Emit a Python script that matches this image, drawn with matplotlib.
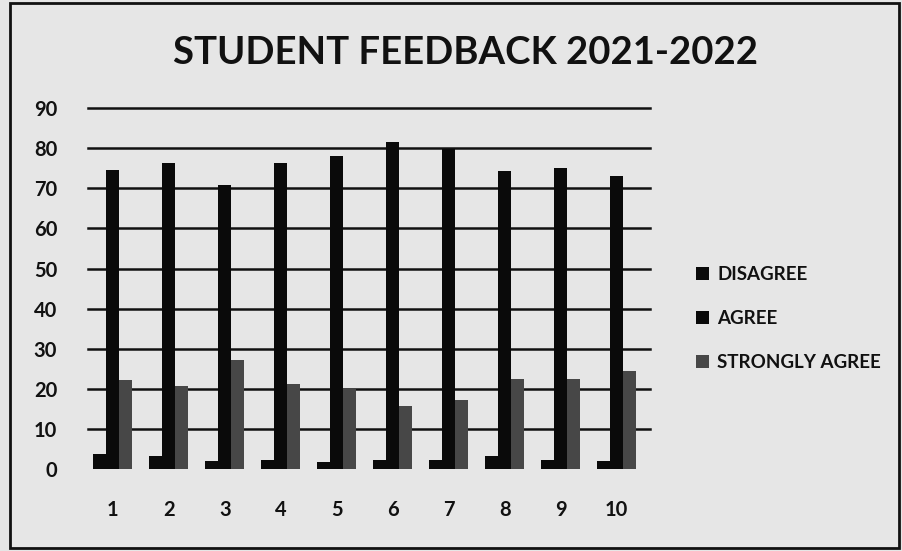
import numpy as np
import matplotlib.pyplot as plt
from matplotlib.patches import Rectangle

plt.rcParams['font.family'] = ['Lato', 'DejaVu Sans']

questions = ['1', '2', '3', '4', '5', '6', '7', '8', '9', '10']
disagree = [3.7, 3.2, 2.1, 2.2, 1.8, 2.2, 2.2, 3.2, 2.2, 2.1]
agree = [74.6, 76.2, 70.8, 76.2, 78.1, 81.6, 79.7, 74.4, 75.0, 73.1]
strongly_agree = [22.2, 20.7, 27.2, 21.2, 19.9, 15.7, 17.2, 22.4, 22.4, 24.5]
series_names = ['DISAGREE', 'AGREE', 'STRONGLY AGREE']

bg = '#e6e6e6'
fig = plt.figure(figsize=(9.03, 5.51), dpi=100, facecolor=bg)
ax = fig.add_axes([0.094, 0.1488, 0.62, 0.655])
ax.set_facecolor(bg)

ind = np.arange(len(questions))
width = 0.233
b1 = ax.bar(ind - width, disagree, width, color='#0a0a0a', zorder=3)
b2 = ax.bar(ind, agree, width, color='#0a0a0a', zorder=3)
b3 = ax.bar(ind + width, strongly_agree, width, color='#474747', zorder=3)

ax.set_xlim(-0.5, 9.5)
ax.set_ylim(0, 90)
ax.set_yticks(range(0, 91, 10))
ax.set_xticks(ind)
ax.set_xticklabels(questions)
for y in range(10, 91, 10):
    ax.plot([-0.446, 9.59], [y, y], color='#111111', lw=1.8, zorder=1, clip_on=False)
for s in ax.spines.values():
    s.set_visible(False)
ax.tick_params(length=0, labelsize=14.5, colors='#111111')
ax.tick_params(axis='y', pad=20)
ax.tick_params(axis='x', pad=22)
for lbl in ax.get_xticklabels() + ax.get_yticklabels():
    lbl.set_fontweight('bold')

fig.text(0.515, 0.903, 'STUDENT FEEDBACK 2021-2022', ha='center', va='center',
         fontsize=27.5, fontweight='bold', color='#111111')

fig.legend((b1[0], b2[0], b3[0]), series_names, loc='upper left',
           bbox_to_anchor=(0.752, 0.548), frameon=False,
           prop={'size': 13.5, 'weight': 'bold'},
           labelspacing=1.45, handlelength=0.7, handleheight=0.7,
           handletextpad=0.45, labelcolor='#111111')

fig.patches.append(Rectangle((0.011, 0.006), 0.985, 0.988, transform=fig.transFigure,
                             fill=False, edgecolor='#111111', lw=2))

fig.savefig('out.png', dpi=100, facecolor=bg)
